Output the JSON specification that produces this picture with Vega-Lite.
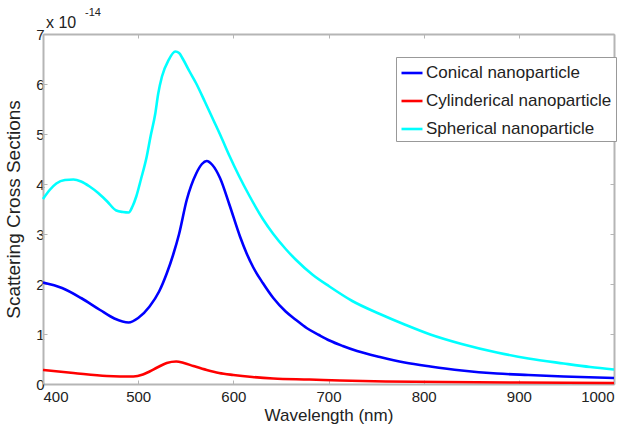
{
  "$schema": "https://vega.github.io/schema/vega-lite/v6.json",
  "width": 571,
  "height": 350,
  "autosize": "none",
  "padding": {"left": 43, "top": 34, "right": 20, "bottom": 50},
  "background": "white",
  "datasets": {
    "curves": [
      {"s": "Conical nanoparticle", "w": 400, "v": 2.03},
      {"s": "Conical nanoparticle", "w": 420, "v": 1.92},
      {"s": "Conical nanoparticle", "w": 440, "v": 1.72},
      {"s": "Conical nanoparticle", "w": 460, "v": 1.48},
      {"s": "Conical nanoparticle", "w": 475, "v": 1.31},
      {"s": "Conical nanoparticle", "w": 490, "v": 1.23},
      {"s": "Conical nanoparticle", "w": 500, "v": 1.32},
      {"s": "Conical nanoparticle", "w": 512, "v": 1.55},
      {"s": "Conical nanoparticle", "w": 522, "v": 1.85},
      {"s": "Conical nanoparticle", "w": 530, "v": 2.21},
      {"s": "Conical nanoparticle", "w": 537, "v": 2.6},
      {"s": "Conical nanoparticle", "w": 543, "v": 3.0},
      {"s": "Conical nanoparticle", "w": 551, "v": 3.68},
      {"s": "Conical nanoparticle", "w": 561, "v": 4.21},
      {"s": "Conical nanoparticle", "w": 567, "v": 4.4},
      {"s": "Conical nanoparticle", "w": 572, "v": 4.46},
      {"s": "Conical nanoparticle", "w": 578, "v": 4.38},
      {"s": "Conical nanoparticle", "w": 586, "v": 4.12},
      {"s": "Conical nanoparticle", "w": 596, "v": 3.58},
      {"s": "Conical nanoparticle", "w": 607, "v": 2.95},
      {"s": "Conical nanoparticle", "w": 614, "v": 2.61},
      {"s": "Conical nanoparticle", "w": 621, "v": 2.33},
      {"s": "Conical nanoparticle", "w": 631, "v": 2.02},
      {"s": "Conical nanoparticle", "w": 642, "v": 1.72},
      {"s": "Conical nanoparticle", "w": 655, "v": 1.45},
      {"s": "Conical nanoparticle", "w": 666, "v": 1.28},
      {"s": "Conical nanoparticle", "w": 677, "v": 1.12},
      {"s": "Conical nanoparticle", "w": 690, "v": 0.98},
      {"s": "Conical nanoparticle", "w": 701, "v": 0.87},
      {"s": "Conical nanoparticle", "w": 715, "v": 0.76},
      {"s": "Conical nanoparticle", "w": 730, "v": 0.66},
      {"s": "Conical nanoparticle", "w": 754, "v": 0.54},
      {"s": "Conical nanoparticle", "w": 780, "v": 0.43},
      {"s": "Conical nanoparticle", "w": 807, "v": 0.35},
      {"s": "Conical nanoparticle", "w": 840, "v": 0.27},
      {"s": "Conical nanoparticle", "w": 877, "v": 0.21},
      {"s": "Conical nanoparticle", "w": 910, "v": 0.18},
      {"s": "Conical nanoparticle", "w": 947, "v": 0.15},
      {"s": "Conical nanoparticle", "w": 1000, "v": 0.12},
      {"s": "Cylinderical nanoparticle", "w": 400, "v": 0.28},
      {"s": "Cylinderical nanoparticle", "w": 432, "v": 0.22},
      {"s": "Cylinderical nanoparticle", "w": 467, "v": 0.16},
      {"s": "Cylinderical nanoparticle", "w": 495, "v": 0.15},
      {"s": "Cylinderical nanoparticle", "w": 505, "v": 0.19},
      {"s": "Cylinderical nanoparticle", "w": 512, "v": 0.25},
      {"s": "Cylinderical nanoparticle", "w": 520, "v": 0.33},
      {"s": "Cylinderical nanoparticle", "w": 530, "v": 0.42},
      {"s": "Cylinderical nanoparticle", "w": 540, "v": 0.45},
      {"s": "Cylinderical nanoparticle", "w": 548, "v": 0.42},
      {"s": "Cylinderical nanoparticle", "w": 558, "v": 0.36},
      {"s": "Cylinderical nanoparticle", "w": 572, "v": 0.28},
      {"s": "Cylinderical nanoparticle", "w": 585, "v": 0.22},
      {"s": "Cylinderical nanoparticle", "w": 600, "v": 0.18},
      {"s": "Cylinderical nanoparticle", "w": 620, "v": 0.14},
      {"s": "Cylinderical nanoparticle", "w": 642, "v": 0.11},
      {"s": "Cylinderical nanoparticle", "w": 680, "v": 0.09},
      {"s": "Cylinderical nanoparticle", "w": 712, "v": 0.07},
      {"s": "Cylinderical nanoparticle", "w": 760, "v": 0.05},
      {"s": "Cylinderical nanoparticle", "w": 820, "v": 0.04},
      {"s": "Cylinderical nanoparticle", "w": 900, "v": 0.03},
      {"s": "Cylinderical nanoparticle", "w": 1000, "v": 0.02},
      {"s": "Spherical nanoparticle", "w": 400, "v": 3.7},
      {"s": "Spherical nanoparticle", "w": 407, "v": 3.88},
      {"s": "Spherical nanoparticle", "w": 414, "v": 4.01},
      {"s": "Spherical nanoparticle", "w": 423, "v": 4.08},
      {"s": "Spherical nanoparticle", "w": 432, "v": 4.09},
      {"s": "Spherical nanoparticle", "w": 440, "v": 4.05},
      {"s": "Spherical nanoparticle", "w": 449, "v": 3.95},
      {"s": "Spherical nanoparticle", "w": 458, "v": 3.82},
      {"s": "Spherical nanoparticle", "w": 467, "v": 3.66},
      {"s": "Spherical nanoparticle", "w": 477, "v": 3.47},
      {"s": "Spherical nanoparticle", "w": 484, "v": 3.44},
      {"s": "Spherical nanoparticle", "w": 490, "v": 3.43},
      {"s": "Spherical nanoparticle", "w": 494, "v": 3.55},
      {"s": "Spherical nanoparticle", "w": 498, "v": 3.75},
      {"s": "Spherical nanoparticle", "w": 503, "v": 4.1},
      {"s": "Spherical nanoparticle", "w": 509, "v": 4.55},
      {"s": "Spherical nanoparticle", "w": 513, "v": 4.95},
      {"s": "Spherical nanoparticle", "w": 518, "v": 5.41},
      {"s": "Spherical nanoparticle", "w": 521, "v": 5.8},
      {"s": "Spherical nanoparticle", "w": 525, "v": 6.15},
      {"s": "Spherical nanoparticle", "w": 532, "v": 6.48},
      {"s": "Spherical nanoparticle", "w": 539, "v": 6.65},
      {"s": "Spherical nanoparticle", "w": 543, "v": 6.62},
      {"s": "Spherical nanoparticle", "w": 547, "v": 6.5},
      {"s": "Spherical nanoparticle", "w": 554, "v": 6.25},
      {"s": "Spherical nanoparticle", "w": 561, "v": 6.01},
      {"s": "Spherical nanoparticle", "w": 570, "v": 5.65},
      {"s": "Spherical nanoparticle", "w": 579, "v": 5.28},
      {"s": "Spherical nanoparticle", "w": 587, "v": 4.95},
      {"s": "Spherical nanoparticle", "w": 596, "v": 4.56},
      {"s": "Spherical nanoparticle", "w": 606, "v": 4.16},
      {"s": "Spherical nanoparticle", "w": 617, "v": 3.76},
      {"s": "Spherical nanoparticle", "w": 631, "v": 3.3},
      {"s": "Spherical nanoparticle", "w": 642, "v": 3.0},
      {"s": "Spherical nanoparticle", "w": 655, "v": 2.7},
      {"s": "Spherical nanoparticle", "w": 666, "v": 2.48},
      {"s": "Spherical nanoparticle", "w": 683, "v": 2.19},
      {"s": "Spherical nanoparticle", "w": 701, "v": 1.95},
      {"s": "Spherical nanoparticle", "w": 725, "v": 1.66},
      {"s": "Spherical nanoparticle", "w": 754, "v": 1.4},
      {"s": "Spherical nanoparticle", "w": 780, "v": 1.19},
      {"s": "Spherical nanoparticle", "w": 807, "v": 0.99},
      {"s": "Spherical nanoparticle", "w": 840, "v": 0.8},
      {"s": "Spherical nanoparticle", "w": 877, "v": 0.63},
      {"s": "Spherical nanoparticle", "w": 910, "v": 0.51},
      {"s": "Spherical nanoparticle", "w": 947, "v": 0.41},
      {"s": "Spherical nanoparticle", "w": 975, "v": 0.34},
      {"s": "Spherical nanoparticle", "w": 1000, "v": 0.29}
    ],
    "exponent": [{"base": "x 10", "power": "-14"}]
  },
  "data": {"name": "curves"},
  "resolve": {"axis": {"x": "independent", "y": "independent"}},
  "layer": [
    {
      "mark": {"type": "line", "opacity": 0},
      "encoding": {
        "x": {"field": "w", "type": "quantitative", "scale": {"domain": [400, 1000], "nice": false},
          "axis": {"orient": "top", "labels": false, "title": null, "values": [400, 500, 600, 700, 800, 900, 1000], "grid": false}},
        "y": {"field": "v", "type": "quantitative", "scale": {"domain": [0, 7], "nice": false},
          "axis": {"orient": "right", "labels": false, "title": null, "values": [0, 1, 2, 3, 4, 5, 6, 7], "grid": false}},
        "detail": {"field": "s"}
      }
    },
    {
      "mark": {"type": "line", "strokeWidth": 2.6, "interpolate": "monotone"},
      "encoding": {
        "x": {"field": "w", "type": "quantitative", "scale": {"domain": [400, 1000], "nice": false},
          "axis": {"orient": "bottom", "title": "Wavelength (nm)", "format": "d", "values": [400, 500, 600, 700, 800, 900, 1000], "grid": false, "labelPadding": 9, "titlePadding": 3, "titleFontSize": 17}},
        "y": {"field": "v", "type": "quantitative", "scale": {"domain": [0, 7], "nice": false},
          "axis": {"orient": "left", "title": "Scattering Cross Sections", "values": [0, 1, 2, 3, 4, 5, 6, 7], "grid": false, "labelPadding": 3, "titlePadding": 12, "titleFontSize": 19}},
        "color": {"field": "s", "type": "nominal", "title": null,
          "scale": {"domain": ["Conical nanoparticle", "Cylinderical nanoparticle", "Spherical nanoparticle"], "range": ["#0000ff", "#ff0000", "#00ffff"]},
          "legend": {"orient": "none", "legendX": 353, "legendY": 23, "symbolType": "stroke", "symbolSize": 441, "symbolStrokeWidth": 2.6, "labelFontSize": 17, "labelFont": "Liberation Sans", "labelColor": "#222", "labelOffset": 2, "rowPadding": 8, "padding": 4, "strokeColor": "#999", "fillColor": "white", "labelLimit": 300}
        }
      }
    },
    {
      "data": {"name": "exponent"},
      "mark": {"type": "text", "align": "left", "baseline": "alphabetic", "fontSize": 16, "font": "Liberation Sans", "color": "#222", "dx": 3, "dy": -6},
      "encoding": {"text": {"field": "base"}, "x": {"datum": 400, "axis": null}, "y": {"datum": 7, "axis": null}}
    },
    {
      "data": {"name": "exponent"},
      "mark": {"type": "text", "align": "left", "baseline": "alphabetic", "fontSize": 11, "font": "Liberation Sans", "color": "#222", "dx": 42, "dy": -18},
      "encoding": {"text": {"field": "power"}, "x": {"datum": 400, "axis": null}, "y": {"datum": 7, "axis": null}}
    }
  ],
  "config": {
    "view": {"stroke": null},
    "axis": {
      "labelFont": "Liberation Sans",
      "titleFont": "Liberation Sans",
      "labelFontSize": 15,
      "labelColor": "#222",
      "titleColor": "#222",
      "titleFontWeight": "normal",
      "domainColor": "#b5b5b5",
      "domainWidth": 2,
      "tickColor": "#b5b5b5",
      "tickSize": -4,
      "tickWidth": 1
    }
  }
}
